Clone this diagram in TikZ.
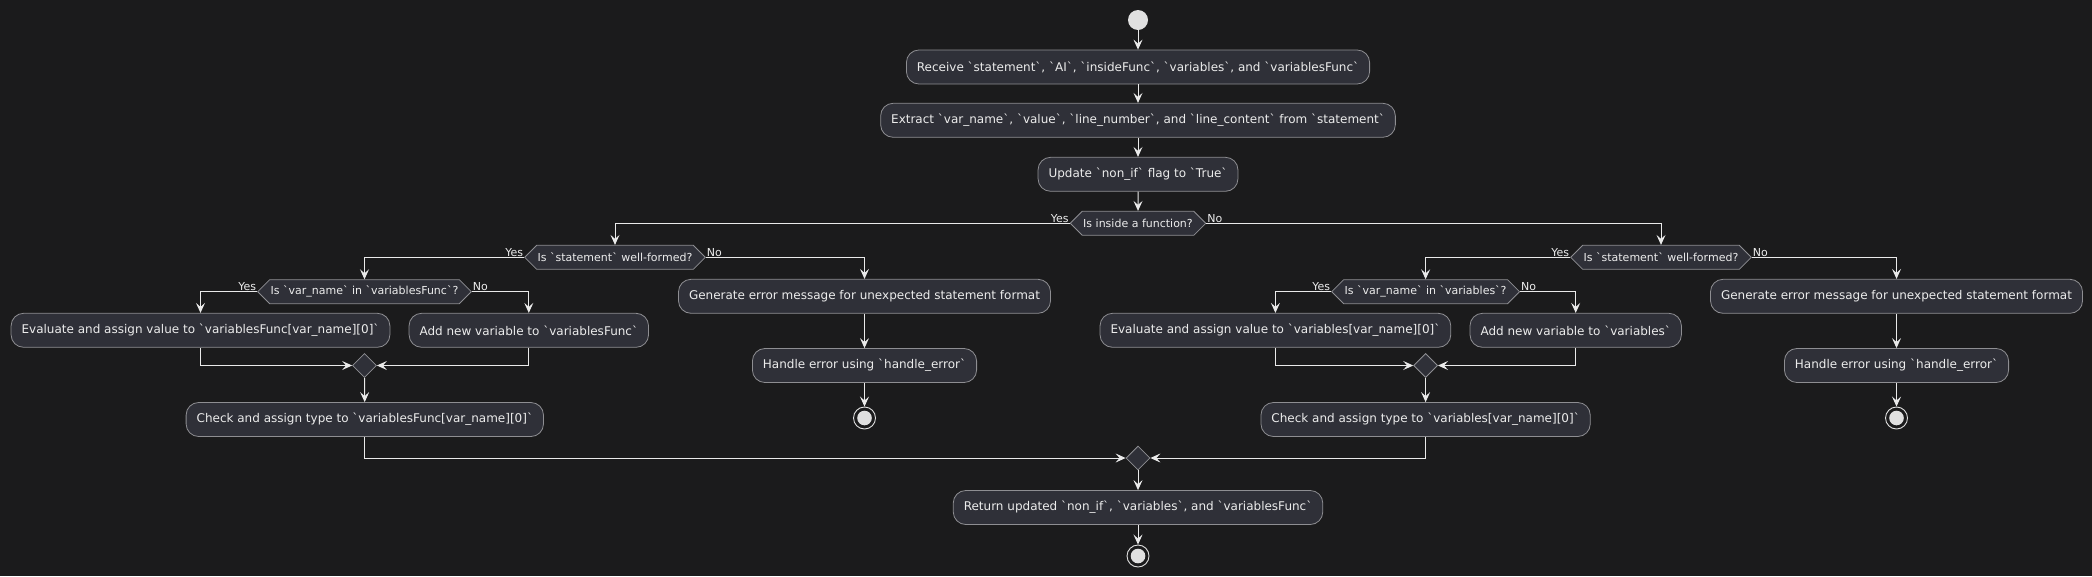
\documentclass[tikz,border=0pt]{standalone}
\usepackage{fontspec}
\setmainfont{DejaVu Sans}[Ligatures=TeXOff]
\usetikzlibrary{arrows.meta,shapes.geometric,shapes.symbols}
\definecolor{bg}{HTML}{1B1B1C}
\definecolor{boxfill}{HTML}{2F3038}
\definecolor{boxline}{HTML}{8E8E92}
\definecolor{txt}{HTML}{ECECEC}
\definecolor{conn}{HTML}{EAEAEA}
\definecolor{dot}{HTML}{E0E0E0}
\tikzset{
  act/.style={draw=boxline, fill=boxfill, text=txt, line width=0.8pt, rounded corners=12.5pt,
    minimum height=34pt, inner xsep=10.5pt, inner ysep=0pt, font=\fontsize{12}{14}\selectfont},
  dec/.style={draw=boxline, fill=boxfill, text=txt, line width=0.8pt, shape=signal,
    signal to=west and east, signal pointer angle=90, minimum height=24pt,
    inner xsep=1pt, inner ysep=0pt, font=\fontsize{11}{13}\selectfont},
  merge/.style={draw=boxline, fill=boxfill, line width=0.8pt, shape=diamond,
    minimum width=24pt, minimum height=24pt, inner sep=0pt},
  startdot/.style={circle, fill=dot, minimum size=20pt, inner sep=0pt},
  enddot/.style={circle, draw=dot, fill=bg, line width=0.9pt, minimum size=22pt, inner sep=0pt,
    path picture={\fill[dot] (path picture bounding box.center) circle (7.3pt);}},
  arr/.style={draw=conn, line width=1pt, -{Stealth[length=10pt,width=9pt,inset=4pt]}},
  ln/.style={draw=conn, line width=1pt},
  lbl/.style={text=txt, font=\fontsize{11}{13}\selectfont, inner sep=0.8pt}
}
\begin{document}
\begin{tikzpicture}[x=1pt,y=-1pt]
\fill[bg] (0,0) rectangle (2092,576);
\useasboundingbox (0,0) rectangle (2092,576);

% main column
\node[startdot] (start) at (1138,20) {};
\node[act] (recv) at (1138,67) {Receive `statement`, `AI`, `insideFunc`, `variables`, and `variablesFunc`};
\node[act] (extr) at (1138,120.3) {Extract `var\_name`, `value`, `line\_number`, and `line\_content` from `statement`};
\node[act] (upd) at (1138,174.3) {Update `non\_if` flag to `True`};
\node[dec] (d1) at (1138,223.3) {Is inside a function?};

% left branch
\node[dec] (dL) at (615,257.3) {Is `statement` well-formed?};
\node[dec] (sL) at (364.5,291.7) {Is `var\_name` in `variablesFunc`?};
\node[act] (evL) at (200.5,330.3) {Evaluate and assign value to `variablesFunc[var\_name][0]`};
\node[act] (addL) at (528.8,330.3) {Add new variable to `variablesFunc`};
\node[merge] (mL) at (364.5,365.5) {};
\node[act] (chkL) at (364.8,419.5) {Check and assign type to `variablesFunc[var\_name][0]`};
\node[act] (genL) at (864.5,296.3) {Generate error message for unexpected statement format};
\node[act] (hdlL) at (864.5,365.5) {Handle error using `handle\_error`};
\node[enddot] (stopL) at (864.5,418) {};

% right branch
\node[dec] (dR) at (1661,257.3) {Is `statement` well-formed?};
\node[dec] (sR) at (1425.6,291.7) {Is `var\_name` in `variables`?};
\node[act] (evR) at (1275.4,330.3) {Evaluate and assign value to `variables[var\_name][0]`};
\node[act] (addR) at (1575.7,330.3) {Add new variable to `variables`};
\node[merge] (mR) at (1425.6,365.5) {};
\node[act] (chkR) at (1425.6,419.5) {Check and assign type to `variables[var\_name][0]`};
\node[act] (genR) at (1896.5,296.3) {Generate error message for unexpected statement format};
\node[act] (hdlR) at (1896.5,365.5) {Handle error using `handle\_error`};
\node[enddot] (stopR) at (1896.5,418) {};

% final
\node[merge] (mF) at (1138,458) {};
\node[act] (ret) at (1138,507.5) {Return updated `non\_if`, `variables`, and `variablesFunc`};
\node[enddot] (fin) at (1138,556) {};

% connectors main
\draw[arr] (start) -- (recv);
\draw[arr] (recv) -- (extr);
\draw[arr] (extr) -- (upd);
\draw[arr] (upd) -- (d1);
\draw[arr] (d1.west) -| (dL.north);
\draw[arr] (d1.east) -| (dR.north);
\node[lbl, anchor=south east] (y1) at (d1.west) {Yes};
\node[lbl, anchor=south west] (n1) at (d1.east) {No};

% left
\draw[arr] (dL.west) -| (sL.north);
\draw[arr] (dL.east) -| (genL.north);
\node[lbl, anchor=south east] (y2) at (dL.west) {Yes};
\node[lbl, anchor=south west] (n2) at (dL.east) {No};
\draw[arr] (sL.west) -| (evL.north);
\draw[arr] (sL.east) -| (addL.north);
\node[lbl, anchor=south east] (y3) at (sL.west) {Yes};
\node[lbl, anchor=south west] (n3) at (sL.east) {No};
\draw[arr] (evL.south) |- (mL.west);
\draw[arr] (addL.south) |- (mL.east);
\draw[arr] (mL) -- (chkL);
\draw[arr] (genL) -- (hdlL);
\draw[arr] (hdlL) -- (stopL);
\draw[arr] (chkL.south) |- (mF.west);

% right
\draw[arr] (dR.west) -| (sR.north);
\draw[arr] (dR.east) -| (genR.north);
\node[lbl, anchor=south east] (y4) at (dR.west) {Yes};
\node[lbl, anchor=south west] (n4) at (dR.east) {No};
\draw[arr] (sR.west) -| (evR.north);
\draw[arr] (sR.east) -| (addR.north);
\node[lbl, anchor=south east] (y5) at (sR.west) {Yes};
\node[lbl, anchor=south west] (n5) at (sR.east) {No};
\draw[arr] (evR.south) |- (mR.west);
\draw[arr] (addR.south) |- (mR.east);
\draw[arr] (mR) -- (chkR);
\draw[arr] (genR) -- (hdlR);
\draw[arr] (hdlR) -- (stopR);
\draw[arr] (chkR.south) |- (mF.east);

% end
\draw[arr] (mF) -- (ret);
\draw[arr] (ret) -- (fin);
\end{tikzpicture}
\end{document}
